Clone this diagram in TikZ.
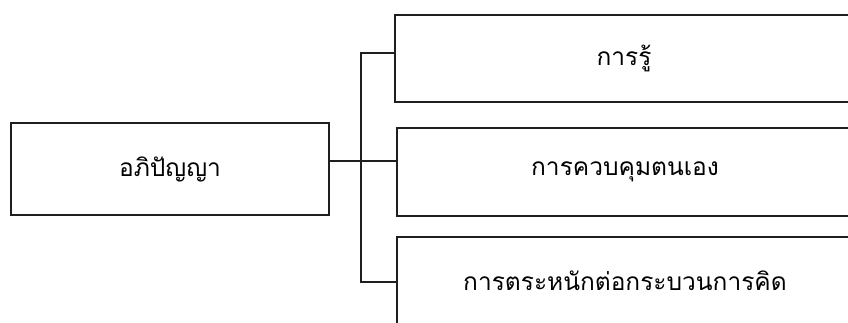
\documentclass[tikz,border=0pt]{standalone}
\usepackage{fontspec}
\newfontfamily\thaifont[Script=Thai]{Loma}
\begin{document}
\begin{tikzpicture}[x=1pt,y=-1pt,
  box/.style={draw=black!88,line width=1.6pt,rectangle,inner sep=0pt,font=\thaifont\fontsize{24.5}{28}\selectfont},
  conn/.style={draw=black!88,line width=1.1pt}]
\useasboundingbox (0,0) rectangle (848,323);
\clip (0,0) rectangle (848,323);
\node[box,minimum width=318pt,minimum height=92pt] (L) at (170,169) {อภิปัญญา};
\node[box,minimum width=458pt,minimum height=87pt] (T) at (624,58.5) {การรู้};
\node[box,minimum width=456pt,minimum height=88pt] (M) at (625,172) {การควบคุมตนเอง};
\node[box,minimum width=456pt,minimum height=88pt] (B) at (625,281) {การตระหนักต่อกระบวนการคิด};
\coordinate (j) at (361,161);
\coordinate (jt) at (361,53);
\coordinate (jb) at (361,282);
\draw[conn] (L.east |- j) -- (M.west |- j);
\draw[conn] (T.west |- jt) -- (jt) -- (jb) -- (B.west |- jb);
\end{tikzpicture}
\end{document}
